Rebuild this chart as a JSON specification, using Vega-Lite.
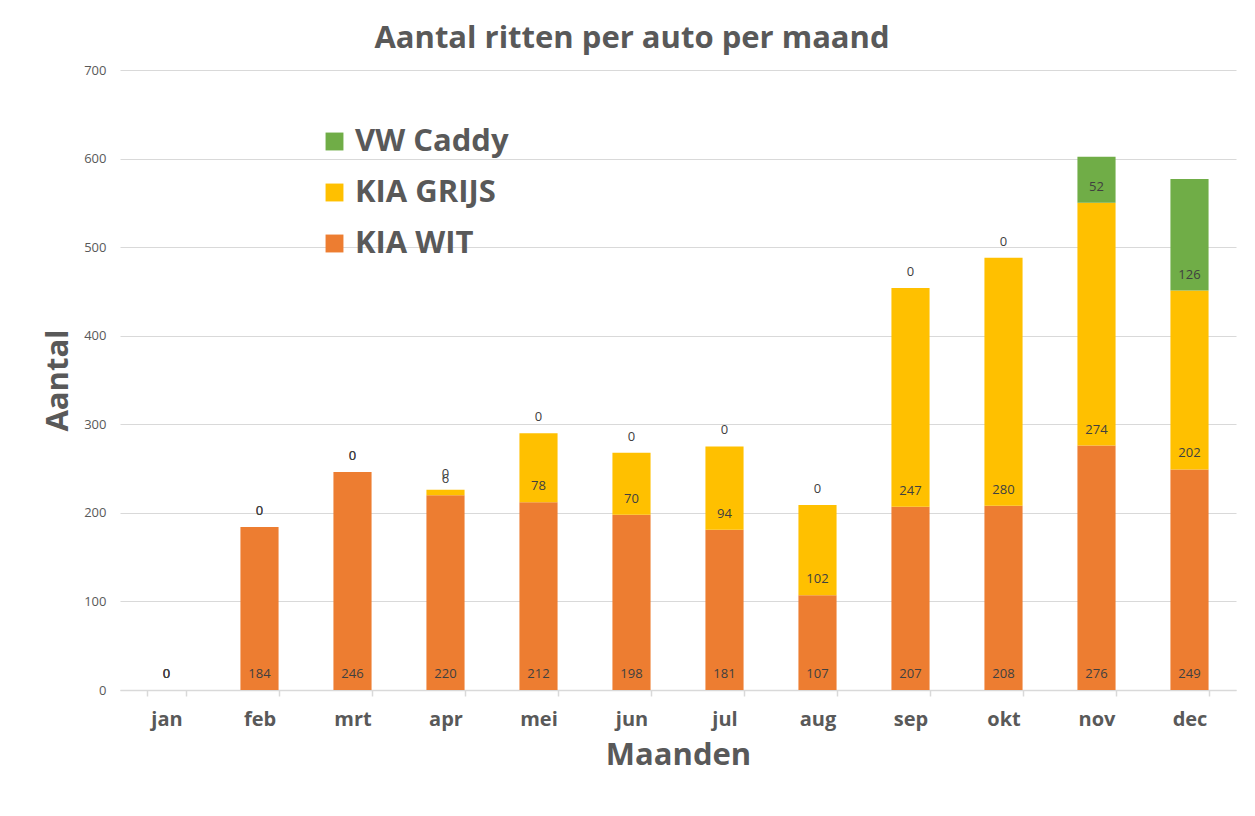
{
  "$schema": "https://vega.github.io/schema/vega-lite/v6.json",
  "autosize": {"type": "none"},
  "width": 1116,
  "height": 620,
  "padding": {"left": 120, "top": 70, "right": 19, "bottom": 126},
  "background": "white",
  "title": {
    "text": "Aantal ritten per auto per maand",
    "anchor": "middle",
    "dx": -46,
    "offset": 9,
    "font": "Open Sans",
    "fontSize": 31,
    "fontWeight": "bold",
    "color": "#595959"
  },
  "config": {
    "view": {"stroke": null},
    "font": "Open Sans"
  },
  "data": {
    "values": [
      {"month": "jan", "car": "KIA WIT", "order": 1, "value": 0},
      {"month": "jan", "car": "KIA GRIJS", "order": 2, "value": 0},
      {"month": "jan", "car": "VW Caddy", "order": 3, "value": 0},
      {"month": "feb", "car": "KIA WIT", "order": 1, "value": 184},
      {"month": "feb", "car": "KIA GRIJS", "order": 2, "value": 0},
      {"month": "feb", "car": "VW Caddy", "order": 3, "value": 0},
      {"month": "mrt", "car": "KIA WIT", "order": 1, "value": 246},
      {"month": "mrt", "car": "KIA GRIJS", "order": 2, "value": 0},
      {"month": "mrt", "car": "VW Caddy", "order": 3, "value": 0},
      {"month": "apr", "car": "KIA WIT", "order": 1, "value": 220},
      {"month": "apr", "car": "KIA GRIJS", "order": 2, "value": 6},
      {"month": "apr", "car": "VW Caddy", "order": 3, "value": 0},
      {"month": "mei", "car": "KIA WIT", "order": 1, "value": 212},
      {"month": "mei", "car": "KIA GRIJS", "order": 2, "value": 78},
      {"month": "mei", "car": "VW Caddy", "order": 3, "value": 0},
      {"month": "jun", "car": "KIA WIT", "order": 1, "value": 198},
      {"month": "jun", "car": "KIA GRIJS", "order": 2, "value": 70},
      {"month": "jun", "car": "VW Caddy", "order": 3, "value": 0},
      {"month": "jul", "car": "KIA WIT", "order": 1, "value": 181},
      {"month": "jul", "car": "KIA GRIJS", "order": 2, "value": 94},
      {"month": "jul", "car": "VW Caddy", "order": 3, "value": 0},
      {"month": "aug", "car": "KIA WIT", "order": 1, "value": 107},
      {"month": "aug", "car": "KIA GRIJS", "order": 2, "value": 102},
      {"month": "aug", "car": "VW Caddy", "order": 3, "value": 0},
      {"month": "sep", "car": "KIA WIT", "order": 1, "value": 207},
      {"month": "sep", "car": "KIA GRIJS", "order": 2, "value": 247},
      {"month": "sep", "car": "VW Caddy", "order": 3, "value": 0},
      {"month": "okt", "car": "KIA WIT", "order": 1, "value": 208},
      {"month": "okt", "car": "KIA GRIJS", "order": 2, "value": 280},
      {"month": "okt", "car": "VW Caddy", "order": 3, "value": 0},
      {"month": "nov", "car": "KIA WIT", "order": 1, "value": 276},
      {"month": "nov", "car": "KIA GRIJS", "order": 2, "value": 274},
      {"month": "nov", "car": "VW Caddy", "order": 3, "value": 52},
      {"month": "dec", "car": "KIA WIT", "order": 1, "value": 249},
      {"month": "dec", "car": "KIA GRIJS", "order": 2, "value": 202},
      {"month": "dec", "car": "VW Caddy", "order": 3, "value": 126}
    ]
  },
  "transform": [
    {"stack": "value", "groupby": ["month"], "sort": [{"field": "order", "order": "ascending"}], "as": ["y0", "y1"]}
  ],
  "encoding": {
    "x": {
      "field": "month",
      "type": "nominal",
      "sort": ["jan","feb","mrt","apr","mei","jun","jul","aug","sep","okt","nov","dec"],
      "scale": {"paddingInner": 0.59, "paddingOuter": 0.295},
      "axis": {
        "title": "Maanden",
        "titleFont": "Open Sans",
        "titleFontSize": 31,
        "titleFontWeight": "bold",
        "titleColor": "#595959",
        "titlePadding": 11,
        "labelAngle": 0,
        "labelFont": "Open Sans",
        "labelFontSize": 20,
        "labelFontWeight": "bold",
        "labelColor": "#595959",
        "labelPadding": 13,
        "domainColor": "#d9d9d9",
        "domainWidth": 1.5,
        "tickColor": "#d9d9d9",
        "tickWidth": 1.5,
        "tickSize": 6,
        "tickBand": "extent",
        "grid": false
      }
    }
  },
  "layer": [
    {
      "mark": {"type": "bar"},
      "encoding": {
        "y": {
          "field": "y0",
          "type": "quantitative",
          "scale": {"domain": [0, 700]},
          "axis": {
            "title": "Aantal",
            "titleFont": "Open Sans",
            "titleFontSize": 31,
            "titleFontWeight": "bold",
            "titleColor": "#595959",
            "titlePadding": 9,
            "values": [0,100,200,300,400,500,600,700],
            "labelFont": "Open Sans",
            "labelFontSize": 13,
            "labelColor": "#595959",
            "labelPadding": 14,
            "ticks": false,
            "domain": false,
            "gridColor": "#d9d9d9",
            "gridWidth": 1.2
          }
        },
        "y2": {"field": "y1"},
        "color": {
          "field": "car",
          "type": "nominal",
          "scale": {
            "domain": ["VW Caddy", "KIA GRIJS", "KIA WIT"],
            "range": ["#70AD47", "#FFC000", "#ED7D31"]
          },
          "legend": {
            "title": null,
            "orient": "none",
            "legendX": 199,
            "legendY": 56,
            "symbolType": "square",
            "symbolSize": 320,
            "symbolStrokeWidth": 0,
            "labelFont": "Open Sans",
            "labelFontSize": 31,
            "labelFontWeight": "bold",
            "labelColor": "#595959",
            "labelOffset": 5,
            "rowPadding": 19,
            "labelLimit": 400
          }
        }
      }
    },
    {
      "mark": {"type": "text", "dy": -16, "fontSize": 13, "color": "#404040", "font": "Open Sans"},
      "encoding": {
        "y": {"field": "y0", "type": "quantitative"},
        "text": {"field": "value", "type": "quantitative"}
      }
    }
  ]
}
